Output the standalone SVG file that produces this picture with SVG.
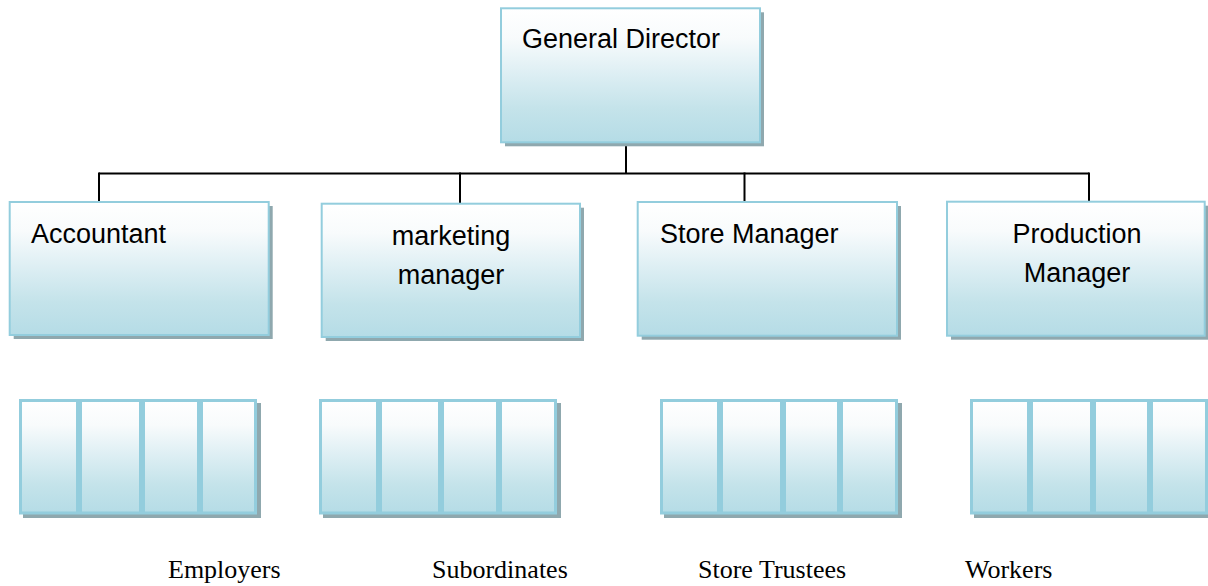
<svg xmlns="http://www.w3.org/2000/svg" width="1208" height="586" viewBox="0 0 1208 586">
<defs>
<linearGradient id="g" x1="0" y1="0" x2="0" y2="1">
<stop offset="0" stop-color="#ffffff"/>
<stop offset="0.22" stop-color="#f8fbfc"/>
<stop offset="0.5" stop-color="#dceef3"/>
<stop offset="0.75" stop-color="#c4e3ea"/>
<stop offset="1" stop-color="#b5dce6"/>
</linearGradient>
<style>
.box{fill:url(#g);stroke:#93cddd;stroke-width:2}
.cell{fill:url(#g);stroke:#93cddd;stroke-width:3}
.sh{fill:#8fa8ae}
.t{font-family:"Liberation Sans",Arial,sans-serif;font-size:27px;fill:#000}
.lb{font-family:"Liberation Serif","Times New Roman",serif;font-size:26px;fill:#000}
.c{fill:none;stroke:#000;stroke-width:2}
</style>
</defs>
<g id="connectors">
<line class="c" x1="626" y1="142" x2="626" y2="173.5"/>
<line class="c" x1="99" y1="173.5" x2="1089" y2="173.5"/>
<line class="c" x1="99" y1="172.5" x2="99" y2="202"/>
<line class="c" x1="460" y1="172.5" x2="460" y2="204"/>
<line class="c" x1="744.5" y1="172.5" x2="744.5" y2="202"/>
<line class="c" x1="1089" y1="172.5" x2="1089" y2="202"/>
</g>
<g id="general-director">
<rect class="sh" x="505" y="12.3" width="259" height="134"/>
<rect class="box" x="501" y="8.3" width="259" height="134"/>
<text class="t" x="522" y="48">General Director</text>
</g>
<g id="accountant">
<rect class="sh" x="13.7" y="206" width="259" height="133"/>
<rect class="box" x="9.7" y="202" width="259" height="133"/>
<text class="t" x="31" y="243">Accountant</text>
</g>
<g id="marketing-manager">
<rect class="sh" x="325.7" y="207.7" width="258.3" height="133.3"/>
<rect class="box" x="321.7" y="203.7" width="258.3" height="133.3"/>
<text class="t" x="451" y="245" text-anchor="middle">marketing</text>
<text class="t" x="451" y="284" text-anchor="middle">manager</text>
</g>
<g id="store-manager">
<rect class="sh" x="641.7" y="206" width="259.3" height="133.7"/>
<rect class="box" x="637.7" y="202" width="259.3" height="133.7"/>
<text class="t" x="660" y="243">Store Manager</text>
</g>
<g id="production-manager">
<rect class="sh" x="951" y="205.7" width="257.7" height="134"/>
<rect class="box" x="947" y="201.7" width="257.7" height="134"/>
<text class="t" x="1077" y="243" text-anchor="middle">Production</text>
<text class="t" x="1077" y="282" text-anchor="middle">Manager</text>
</g>
<g id="employers">
<rect class="sh" x="23" y="403" width="238" height="115"/>
<rect class="cell" x="20.5" y="400.5" width="57" height="112.5"/>
<rect class="cell" x="80.5" y="400.5" width="60" height="112.5"/>
<rect class="cell" x="143.5" y="400.5" width="55" height="112.5"/>
<rect class="cell" x="201.5" y="400.5" width="54" height="112.5"/>
<text class="lb" x="168" y="578">Employers</text>
</g>
<g id="subordinates">
<rect class="sh" x="323" y="403" width="238" height="115"/>
<rect class="cell" x="320.5" y="400.5" width="57" height="112.5"/>
<rect class="cell" x="380.5" y="400.5" width="59" height="112.5"/>
<rect class="cell" x="442.5" y="400.5" width="55" height="112.5"/>
<rect class="cell" x="500.5" y="400.5" width="55" height="112.5"/>
<text class="lb" x="432" y="578">Subordinates</text>
</g>
<g id="store-trustees">
<rect class="sh" x="664" y="403" width="238" height="115"/>
<rect class="cell" x="661.5" y="400.5" width="57" height="112.5"/>
<rect class="cell" x="721.5" y="400.5" width="60" height="112.5"/>
<rect class="cell" x="784.5" y="400.5" width="54" height="112.5"/>
<rect class="cell" x="841.5" y="400.5" width="55" height="112.5"/>
<text class="lb" x="698" y="578">Store Trustees</text>
</g>
<g id="workers">
<rect class="sh" x="974" y="403" width="238" height="115"/>
<rect class="cell" x="971.5" y="400.5" width="57" height="112.5"/>
<rect class="cell" x="1031.5" y="400.5" width="60" height="112.5"/>
<rect class="cell" x="1094.5" y="400.5" width="54" height="112.5"/>
<rect class="cell" x="1151.5" y="400.5" width="55" height="112.5"/>
<text class="lb" x="965" y="578">Workers</text>
</g>
</svg>
